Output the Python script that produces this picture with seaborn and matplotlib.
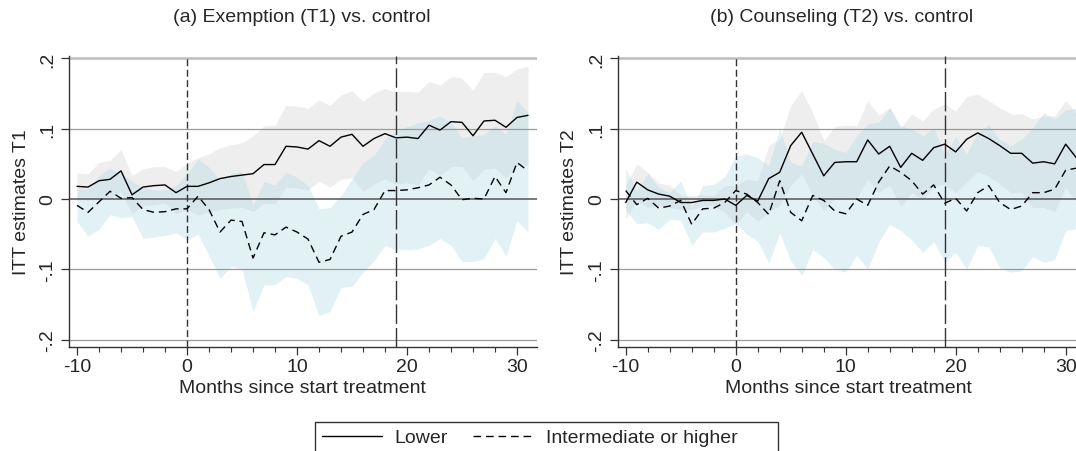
import numpy as np
import pandas as pd
import matplotlib
matplotlib.use("Agg")
import matplotlib.pyplot as plt
from matplotlib.lines import Line2D
from matplotlib.patches import Rectangle
from matplotlib.ticker import MultipleLocator
import seaborn as sns

# ---------------- data ----------------
months = list(range(-10, 32))

# Panel (a): Exemption (T1) vs control
a_lower_est = [0.018, 0.017, 0.026, 0.028, 0.040, 0.006, 0.017, 0.019, 0.020, 0.009,
               0.018, 0.018, 0.023, 0.029, 0.032, 0.034, 0.036, 0.049, 0.049, 0.075,
               0.074, 0.071, 0.083, 0.075, 0.088, 0.092, 0.075, 0.086, 0.093, 0.087,
               0.088, 0.086, 0.105, 0.098, 0.110, 0.109, 0.090, 0.111, 0.112, 0.102,
               0.116, 0.119]
a_lower_hi = [0.037, 0.036, 0.052, 0.055, 0.070, 0.033, 0.043, 0.046, 0.046, 0.039,
              0.051, 0.059, 0.064, 0.073, 0.077, 0.080, 0.090, 0.104, 0.105, 0.133,
              0.132, 0.129, 0.141, 0.133, 0.148, 0.154, 0.139, 0.151, 0.157, 0.153,
              0.153, 0.152, 0.167, 0.162, 0.174, 0.172, 0.154, 0.180, 0.180, 0.174,
              0.185, 0.189]
a_lower_lo = [-0.001, -0.002, 0.000, 0.001, 0.010, -0.021, -0.009, -0.008, -0.006, -0.021,
              -0.015, -0.023, -0.018, -0.015, -0.013, -0.012, -0.018, -0.006, -0.007, 0.017,
              0.016, 0.013, 0.025, 0.017, 0.028, 0.030, 0.011, 0.021, 0.029, 0.021,
              0.023, 0.020, 0.043, 0.034, 0.046, 0.046, 0.026, 0.042, 0.044, 0.030,
              0.047, 0.049]
a_inter_est = [-0.009, -0.019, -0.004, 0.011, 0.001, 0.002, -0.015, -0.019, -0.018, -0.014,
               -0.014, 0.004, -0.015, -0.047, -0.030, -0.032, -0.084, -0.048, -0.051, -0.040,
               -0.047, -0.057, -0.090, -0.086, -0.053, -0.047, -0.022, -0.015, 0.012, 0.012,
               0.013, 0.016, 0.020, 0.031, 0.020, -0.001, 0.001, 0.000, 0.032, 0.009,
               0.052, 0.040]
a_inter_hi = [0.016, 0.014, 0.033, 0.044, 0.036, 0.025, 0.017, 0.013, 0.013, 0.019,
              0.036, 0.057, 0.045, 0.027, 0.036, 0.039, -0.008, 0.025, 0.020, 0.038,
              0.031, 0.019, -0.014, -0.012, 0.005, 0.028, 0.052, 0.062, 0.085, 0.097,
              0.103, 0.108, 0.112, 0.118, 0.109, 0.087, 0.090, 0.092, 0.104, 0.092,
              0.140, 0.123]
a_inter_lo = [-0.032, -0.053, -0.043, -0.022, -0.027, -0.025, -0.056, -0.054, -0.052, -0.048,
              -0.058, -0.050, -0.081, -0.113, -0.096, -0.100, -0.160, -0.122, -0.122, -0.110,
              -0.113, -0.122, -0.166, -0.160, -0.126, -0.124, -0.104, -0.088, -0.066, -0.072,
              -0.072, -0.071, -0.066, -0.056, -0.066, -0.089, -0.089, -0.085, -0.056, -0.081,
              -0.031, -0.047]

# Panel (b): Counseling (T2) vs control
b_lower_est = [-0.005, 0.024, 0.013, 0.007, 0.004, -0.005, -0.005, -0.002, -0.002, 0.000,
               -0.009, 0.005, -0.003, 0.029, 0.038, 0.076, 0.095, 0.064, 0.033, 0.052,
               0.053, 0.053, 0.084, 0.064, 0.075, 0.045, 0.065, 0.055, 0.073, 0.078,
               0.067, 0.085, 0.094, 0.086, 0.076, 0.065, 0.065, 0.051, 0.053, 0.050,
               0.078, 0.058]
b_lower_hi = [0.019, 0.050, 0.038, 0.023, 0.020, 0.005, 0.005, 0.006, 0.005, 0.019,
              0.019, 0.028, 0.026, 0.076, 0.085, 0.133, 0.154, 0.123, 0.083, 0.103,
              0.105, 0.104, 0.140, 0.119, 0.130, 0.101, 0.121, 0.111, 0.128, 0.135,
              0.125, 0.146, 0.149, 0.140, 0.130, 0.121, 0.121, 0.114, 0.118, 0.118,
              0.140, 0.121]
b_lower_lo = [-0.029, -0.002, -0.012, -0.009, -0.012, -0.015, -0.015, -0.010, -0.009, -0.019,
              -0.037, -0.018, -0.032, -0.018, -0.009, 0.019, 0.036, 0.005, -0.017, 0.001,
              0.001, 0.002, 0.028, 0.009, 0.020, -0.011, 0.009, -0.001, 0.018, 0.021,
              0.009, 0.024, 0.039, 0.032, 0.022, 0.009, 0.009, -0.012, -0.012, -0.018,
              0.016, -0.005]
b_inter_est = [0.012, -0.008, 0.001, -0.013, -0.010, -0.002, -0.036, -0.014, -0.013, -0.005,
               0.012, 0.007, -0.005, -0.022, 0.026, -0.019, -0.031, 0.005, -0.002, -0.017,
               -0.021, 0.000, -0.009, 0.024, 0.047, 0.038, 0.026, 0.007, 0.020, -0.006,
               0.001, -0.017, 0.009, 0.019, -0.005, -0.015, -0.010, 0.009, 0.009, 0.014,
               0.041, 0.044]
b_inter_hi = [0.043, 0.012, 0.036, 0.017, 0.009, 0.026, -0.012, 0.019, 0.021, 0.032,
              0.061, 0.064, 0.059, 0.047, 0.100, 0.052, 0.047, 0.082, 0.079, 0.071,
              0.066, 0.090, 0.107, 0.109, 0.130, 0.104, 0.100, 0.090, 0.101, 0.064,
              0.088, 0.064, 0.095, 0.105, 0.085, 0.076, 0.085, 0.101, 0.123, 0.114,
              0.127, 0.129]
b_inter_lo = [-0.016, -0.035, -0.034, -0.043, -0.029, -0.030, -0.066, -0.047, -0.047, -0.042,
              -0.035, -0.050, -0.060, -0.091, -0.048, -0.088, -0.109, -0.072, -0.083, -0.100,
              -0.104, -0.080, -0.100, -0.061, -0.036, -0.045, -0.058, -0.076, -0.061, -0.090,
              -0.076, -0.100, -0.066, -0.068, -0.098, -0.104, -0.102, -0.082, -0.090, -0.086,
              -0.045, -0.042]

groups = ["Lower", "Intermediate or higher"]
titles = ["(a) Exemption (T1) vs. control", "(b) Counseling (T2) vs. control"]
ylabels = ["ITT estimates T1", "ITT estimates T2"]
xlabel = "Months since start treatment"
yticks = [-0.2, -0.1, 0.0, 0.1, 0.2]
yticklabels = ["-.2", "-.1", "0", ".1", ".2"]
xticks = [-10, 0, 10, 20, 30]
vlines = [0, 19]

# ---------------- style ----------------
sns.set_theme(style="white")
plt.rcParams["font.family"] = ["Liberation Sans", "DejaVu Sans"]
plt.rcParams["font.size"] = 14

W, H = 1076, 452
fig = plt.figure(figsize=(W / 100, H / 100), dpi=100)


def fx(px):
    return px / W


def fy(py):
    return 1 - py / H


ax_left = [69, 617.7]
ax_w = 468
ax_h = fy(57) - fy(348)
axes = [fig.add_axes([fx(l), fy(348), fx(ax_w), ax_h]) for l in ax_left]

panels = [
    (a_lower_est, a_lower_lo, a_lower_hi, a_inter_est, a_inter_lo, a_inter_hi),
    (b_lower_est, b_lower_lo, b_lower_hi, b_inter_est, b_inter_lo, b_inter_hi),
]

gray_fill = "#eeeeee"
blue_fill = (0.68, 0.85, 0.90)
dash_pat = (5.5, 3.5)

title_x = [302, 842]
xlabel_x = [302, 848]
ylabel_x = [30, 578]

for i, ax in enumerate(axes):
    le, llo, lhi, me, mlo, mhi = panels[i]
    ax.fill_between(months, llo, lhi, color=gray_fill, lw=0, zorder=1)
    ax.fill_between(months, mlo, mhi, color=blue_fill, alpha=0.35, lw=0, zorder=1.1)

    df = pd.DataFrame({
        "month": months * 2,
        "est": list(le) + list(me),
        "group": [groups[0]] * len(months) + [groups[1]] * len(months),
    })
    sns.lineplot(data=df, x="month", y="est", style="group", style_order=groups,
                 dashes={groups[0]: "", groups[1]: dash_pat}, color="black",
                 lw=1.0, ax=ax, legend=False, zorder=4)

    for v in yticks:
        if v == 0:
            ax.axhline(v, color="#555555", lw=1.1, zorder=1.6)
        elif v == 0.2:
            ax.axhline(v, color="#bdbdbd", lw=1.8, zorder=1.6)
        else:
            ax.axhline(v, color="#9a9a9a", lw=0.9, zorder=1.6)

    ax.axvline(vlines[0], color="#333333", lw=1.0, dashes=(5, 2.5), zorder=2)
    ax.axvline(vlines[1], color="#333333", lw=1.0, dashes=(14, 3), zorder=2)

    ax.set_xlim(-10.73, 31.82)
    ax.set_ylim(-0.2105, 0.2034)
    ax.set_yticks(yticks)
    ax.set_yticklabels(yticklabels, rotation=90, va="center", fontsize=14)
    ax.set_xticks(xticks)
    ax.set_xticklabels([str(t) for t in xticks], fontsize=14)
    ax.xaxis.set_minor_locator(MultipleLocator(2))
    ax.tick_params(axis="both", which="major", direction="out", length=6, width=0.9,
                   color="#333333", pad=3, bottom=True, left=True)
    ax.tick_params(axis="x", which="minor", direction="out", length=3.5, width=0.8,
                   color="#333333", bottom=True)
    ax.tick_params(axis="x", pad=2)
    for s in ["top", "right"]:
        ax.spines[s].set_visible(False)
    for s in ["left", "bottom"]:
        ax.spines[s].set_color("#333333")
        ax.spines[s].set_linewidth(1.0)
    ax.set_xlabel("")
    ax.set_ylabel(ylabels[i], fontsize=14)
    ax.yaxis.set_label_coords((ylabel_x[i] - ax_left[i]) / ax_w, 0.5)

    fig.text(fx(title_x[i]), fy(18), titles[i], ha="center", va="center", fontsize=14)
    fig.text(fx(xlabel_x[i]), fy(389), xlabel, ha="center", va="center", fontsize=14)

handles = [Line2D([], [], color="black", lw=1.0),
           Line2D([], [], color="black", lw=1.0, dashes=dash_pat)]
leg = fig.legend(handles, groups, loc="upper left", bbox_to_anchor=(fx(315), fy(423)),
                 ncol=2, frameon=False, handlelength=3.1,
                 handletextpad=0.65, columnspacing=1.3, borderpad=0.35,
                 borderaxespad=0, fontsize=14)
# legend frame (wider on the right, as in the reference)
frame = Rectangle((fx(315), fy(470)), fx(778 - 315), fy(423) - fy(470),
                  transform=fig.transFigure, fill=False, edgecolor="#333333",
                  linewidth=1.0)
fig.patches.append(frame)

fig.savefig("out.png", dpi=100)
